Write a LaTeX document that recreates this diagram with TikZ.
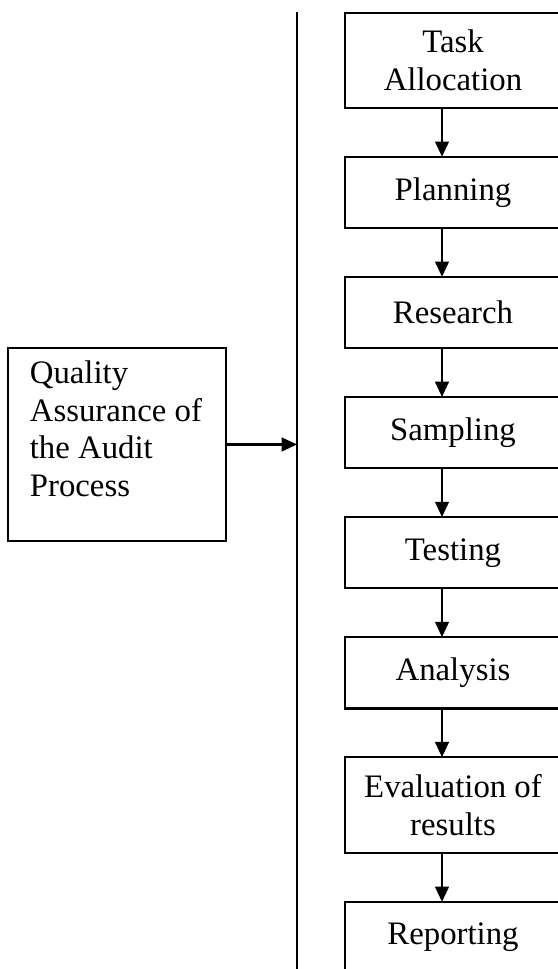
\documentclass[tikz,border=0pt]{standalone}
\usepackage{fontspec}
\setmainfont{Liberation Serif}
\usetikzlibrary{arrows.meta, positioning}

\begin{document}
\begin{tikzpicture}[x=0.366pt, y=-0.366pt, >={Triangle[width=5pt,length=5.6pt]},
    font=\fontsize{12}{13.8}\selectfont, line width=0.8pt, node distance=17.85pt,
    stage/.style={draw, outer sep=0pt, minimum width=79pt, minimum height=26.1pt, align=center, inner sep=0pt}]
  \clip (0,0) rectangle (558,969);

  % audit steps
  \node[stage, minimum height=34.8pt] (task) at (453,60.5) {Task\\Allocation};
  \node[stage, below=of task] (plan) {Planning};
  \node[stage, below=of plan] (res) {Research};
  \node[stage, below=of res] (samp) {Sampling};
  \node[stage, below=of samp] (test) {Testing};
  \node[stage, below=of test] (anal) {Analysis};
  \node[stage, minimum height=35.1pt, below=of anal] (eval) {Evaluation of\\results};
  \node[stage, below=of eval] (rep) {Reporting};

  \coordinate (ax) at (442,0);
  \foreach \a/\b in {task/plan, plan/res, res/samp, samp/test, test/anal, anal/eval, eval/rep}
    \draw[->] (\a.south -| ax) -- (\b.north -| ax);

  % divider
  \coordinate (ltop) at (297,12);
  \coordinate (lbot) at (297,969);
  \draw (ltop) -- (lbot);

  \node[draw, outer sep=0pt, anchor=north west, inner sep=0pt] (qa) at (8,348)
    {\parbox[c][70.6pt][t]{79.8pt}{\leftskip=8pt\vspace*{4.6pt}Quality\\Assurance of\\the Audit\\Process}};
  \draw[->] (qa.east) -- (qa.east -| ltop);
\end{tikzpicture}
\end{document}
